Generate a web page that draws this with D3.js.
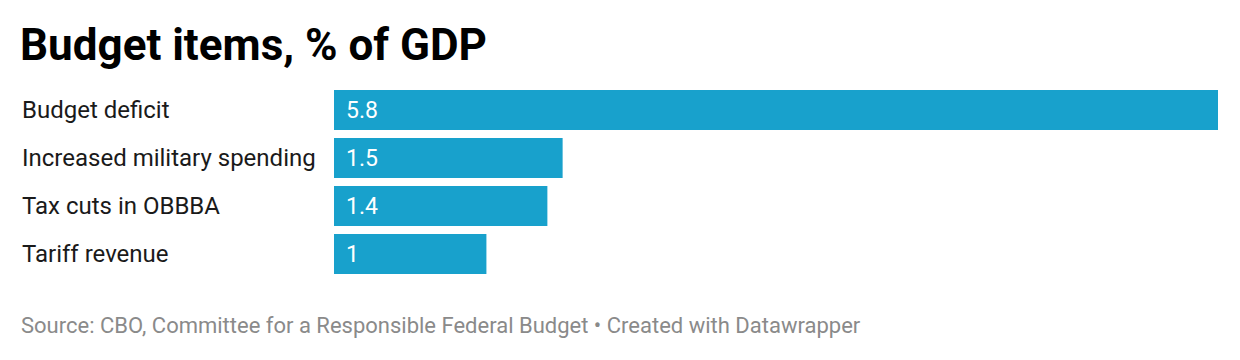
<!DOCTYPE html>
<html lang="en">
<head>
    <meta charset="UTF-8">
    <title>Budget items, % of GDP</title>
    <script src="https://d3js.org/d3.v7.min.js"></script>
    <style>
        body {
            margin: 0;
            background: #fff;
            font-family: Roboto, Arial, sans-serif;
        }
        svg {
            display: block;
        }
    </style>
</head>
<body>

    <div id="container"></div>

    <script>
        // data
        const categories = ['Budget deficit', 'Increased military spending', 'Tax cuts in OBBBA', 'Tariff revenue'];
        const values = [5.8, 1.5, 1.4, 1];
        const valueLabels = ['5.8', '1.5', '1.4', '1'];

        const width = 1240;
        const height = 360;

        const svg = d3.select('#container').append('svg')
            .attr('width', width)
            .attr('height', height);

        // title
        svg.append('text')
            .attr('x', 20)
            .attr('y', 60)
            .attr('font-size', 44)
            .attr('font-weight', 700)
            .attr('fill', '#000')
            .text('Budget items, % of GDP');

        // scales
        const x = d3.scaleLinear()
            .domain([0, d3.max(values)])
            .range([334, 1218]);

        const y = d3.scaleBand()
            .domain(categories)
            .range([90, 274])
            .paddingInner(8 / 48)
            .paddingOuter(0);

        const rows = categories.map((c, i) => ({ cat: c, val: values[i], label: valueLabels[i] }));

        // bars
        svg.selectAll('rect.bar')
            .data(rows)
            .enter()
            .append('rect')
            .attr('class', 'bar')
            .attr('x', x(0))
            .attr('y', d => y(d.cat))
            .attr('width', d => x(d.val) - x(0))
            .attr('height', y.bandwidth())
            .attr('fill', '#18a1cc');

        // category labels
        svg.selectAll('text.cat')
            .data(rows)
            .enter()
            .append('text')
            .attr('class', 'cat')
            .attr('x', 22)
            .attr('y', d => y(d.cat) + y.bandwidth() / 2)
            .attr('dy', '0.35em')
            .attr('font-size', 24)
            .attr('fill', '#1a1a1a')
            .text(d => d.cat);

        // value labels
        svg.selectAll('text.val')
            .data(rows)
            .enter()
            .append('text')
            .attr('class', 'val')
            .attr('x', x(0) + 12)
            .attr('y', d => y(d.cat) + y.bandwidth() / 2)
            .attr('dy', '0.35em')
            .attr('font-size', 23)
            .attr('fill', '#fff')
            .text(d => d.label);

        // footer
        svg.append('text')
            .attr('x', 21)
            .attr('y', 333)
            .attr('font-size', 22)
            .attr('fill', '#8a8a8a')
            .text('Source: CBO, Committee for a Responsible Federal Budget \u2022 Created with Datawrapper');
    </script>

</body>
</html>
